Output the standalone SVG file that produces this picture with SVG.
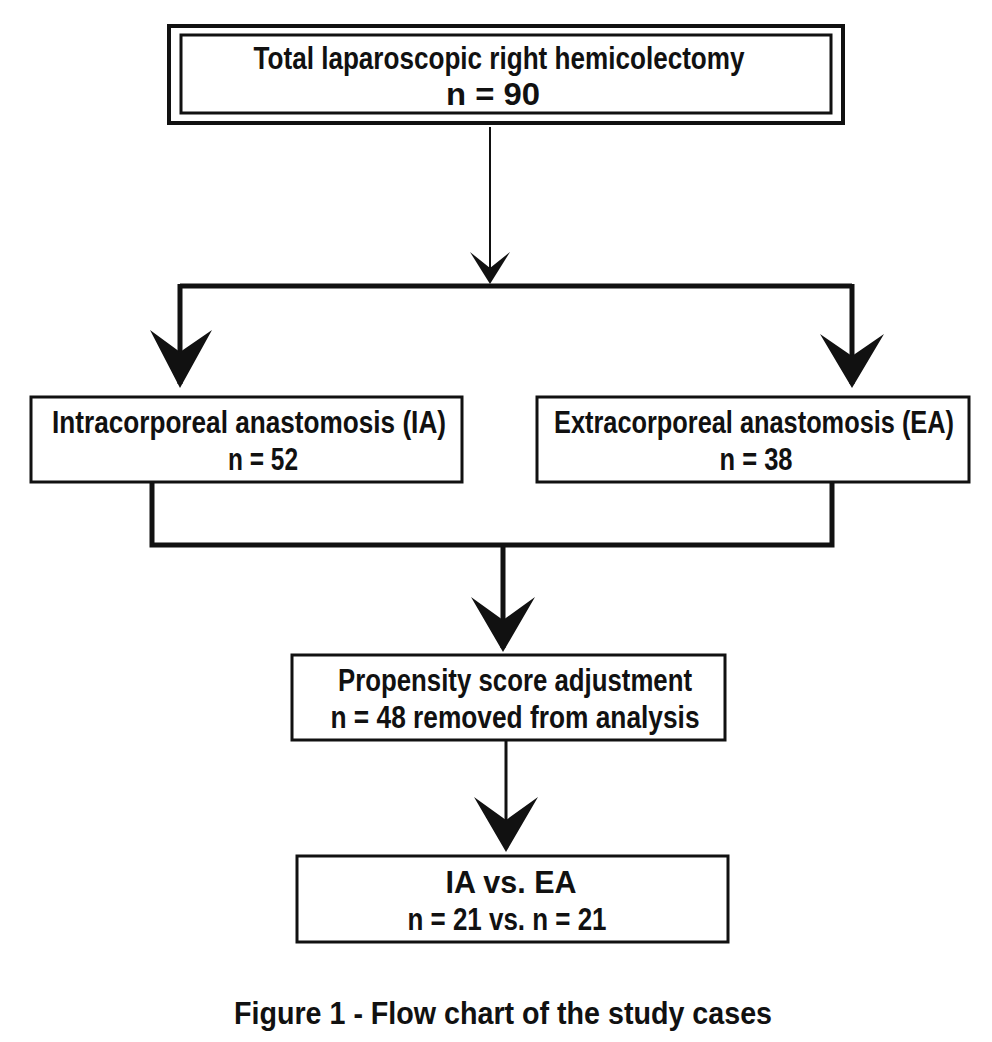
<svg xmlns="http://www.w3.org/2000/svg" width="992" height="1042" viewBox="0 0 992 1042">
<style>
.b{fill:#fff;stroke:#111;stroke-width:3}
.t{font-family:"Liberation Sans",Arial,sans-serif;font-weight:bold;font-size:32px;fill:#111;text-anchor:middle}
.l{stroke:#111;fill:none}
.h{fill:#111}
</style>
<rect width="992" height="1042" fill="#fff"/>
<g id="connectors">
<path class="l" stroke-width="2" d="M490,127V282"/>
<path class="h" d="M490,284L470,252L490,268L510,252Z"/>
<path class="l" stroke-width="5" d="M180,286H852M180,284V384M852,284V384"/>
<path class="h" d="M180,388L150,330L180,352L212,330Z"/>
<path class="h" d="M852,388L820,334L852,356L884,334Z"/>
<path class="l" stroke-width="5" d="M152,482V545H832V482M503,545V648"/>
<path class="h" d="M503,652L471,597L503,620L535,597Z"/>
<path class="l" stroke-width="3" d="M506,740V848"/>
<path class="h" d="M506,852L474,797L506,820L538,797Z"/>
</g>
<g id="n1">
<rect x="169" y="26" width="674" height="97" fill="#fff" stroke="#111" stroke-width="4"/>
<rect x="181" y="35" width="650" height="78" fill="none" stroke="#111" stroke-width="3"/>
<text class="t" x="499" y="69" textLength="491" lengthAdjust="spacingAndGlyphs">Total laparoscopic right hemicolectomy</text>
<text class="t" x="493" y="105" textLength="94" lengthAdjust="spacingAndGlyphs">n = 90</text>
</g>
<g id="n2">
<rect class="b" x="31" y="397" width="431" height="85"/>
<text class="t" x="249" y="433" textLength="394" lengthAdjust="spacingAndGlyphs">Intracorporeal anastomosis (IA)</text>
<text class="t" x="263" y="470" textLength="70" lengthAdjust="spacingAndGlyphs">n = 52</text>
</g>
<g id="n3">
<rect class="b" x="537" y="397" width="432" height="85"/>
<text class="t" x="754" y="433" textLength="400" lengthAdjust="spacingAndGlyphs">Extracorporeal anastomosis (EA)</text>
<text class="t" x="756" y="470" textLength="73" lengthAdjust="spacingAndGlyphs">n = 38</text>
</g>
<g id="n4">
<rect class="b" x="292" y="655" width="433" height="85"/>
<text class="t" x="515" y="691" textLength="354" lengthAdjust="spacingAndGlyphs">Propensity score adjustment</text>
<text class="t" x="515" y="728" textLength="369" lengthAdjust="spacingAndGlyphs">n = 48 removed from analysis</text>
</g>
<g id="n5">
<rect class="b" x="297" y="856" width="431" height="86"/>
<text class="t" x="511" y="893" textLength="131" lengthAdjust="spacingAndGlyphs">IA vs. EA</text>
<text class="t" x="507" y="930" textLength="199" lengthAdjust="spacingAndGlyphs">n = 21 vs. n = 21</text>
</g>
<text class="t" x="503" y="1024" font-size="35" textLength="538" lengthAdjust="spacingAndGlyphs">Figure 1 - Flow chart of the study cases</text>
</svg>
